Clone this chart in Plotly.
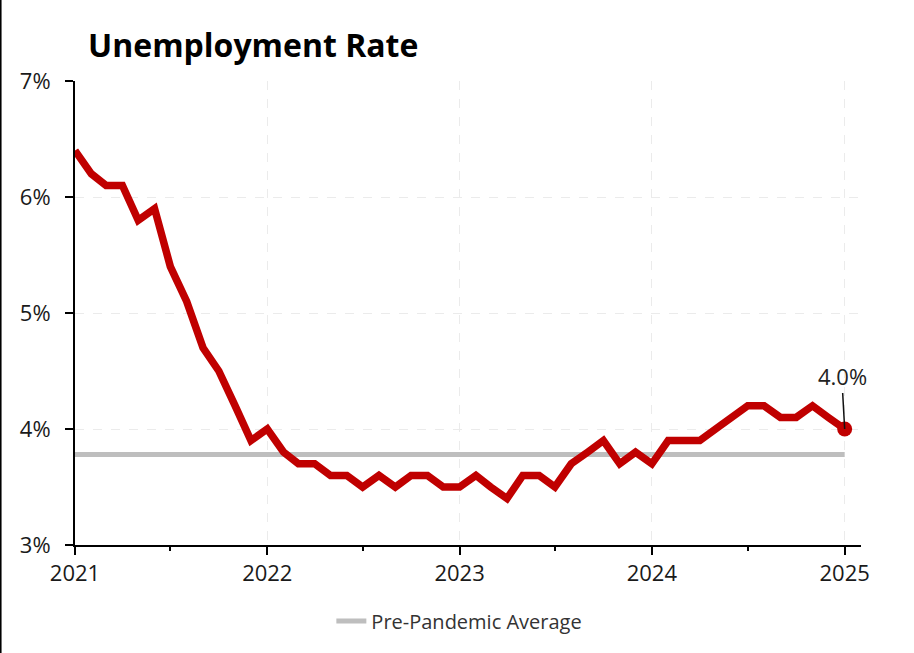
import plotly.graph_objects as go
import pandas as pd

months = pd.date_range("2021-01-01", "2025-01-01", freq="MS").strftime("%Y-%m-%d").tolist()
unemployment = [
    6.4, 6.2, 6.1, 6.1, 5.8, 5.9, 5.4, 5.1, 4.7, 4.5, 4.2, 3.9,
    4.0, 3.8, 3.7, 3.7, 3.6, 3.6, 3.5, 3.6, 3.5, 3.6, 3.6, 3.5,
    3.5, 3.6, 3.5, 3.4, 3.6, 3.6, 3.5, 3.7, 3.8, 3.9, 3.7, 3.8,
    3.7, 3.9, 3.9, 3.9, 4.0, 4.1, 4.2, 4.2, 4.1, 4.1, 4.2, 4.1,
    4.0,
]
pre_pandemic_avg = 3.78
year_ticks = ["2021-01-01", "2022-01-01", "2023-01-01", "2024-01-01", "2025-01-01"]
year_labels = ["2021", "2022", "2023", "2024", "2025"]
y_ticks = [3, 4, 5, 6, 7]
y_labels = ["3%", "4%", "5%", "6%", "7%"]

FONT = "Open Sans"
RED = "#C00000"
GRAY = "#BEBEBE"

fig = go.Figure()
fig.add_trace(go.Scatter(
    x=[months[0], months[-1]], y=[pre_pandemic_avg, pre_pandemic_avg],
    mode="lines", line=dict(color=GRAY, width=5),
    name="Pre-Pandemic Average", showlegend=True,
))
fig.add_trace(go.Scatter(
    x=months, y=unemployment, mode="lines",
    line=dict(color=RED, width=7.5), showlegend=False, name="Unemployment",
))
fig.add_trace(go.Scatter(
    x=[months[-1]], y=[unemployment[-1]], mode="markers",
    marker=dict(color=RED, size=15), showlegend=False, hoverinfo="skip",
))

fig.add_annotation(
    x=months[-1], y=unemployment[-1], xref="x", yref="y",
    text=f"{unemployment[-1]:.1f}%", showarrow=True, arrowhead=0,
    arrowwidth=1.5, arrowcolor="#111", ax=-2, ay=-36,
    font=dict(family=FONT, size=22, color="#222"), yanchor="bottom",
)

fig.add_shape(type="line", xref="paper", yref="paper",
              x0=-0.0947, x1=-0.0947, y0=-0.3, y1=1.2,
              line=dict(color="black", width=2))

fig.update_layout(
    width=914, height=653,
    margin=dict(l=75, r=53, t=81, b=108),
    paper_bgcolor="white", plot_bgcolor="white",
    title=dict(text="<b>Unemployment Rate</b>", x=88/914, xanchor="left",
               y=1-46/653, yanchor="middle",
               font=dict(family=FONT, size=32, color="black")),
    font=dict(family=FONT, color="#222"),
    legend=dict(orientation="h", x=0.489, xanchor="center", y=-0.164, yanchor="middle",
                font=dict(family=FONT, size=20, color="#333")),
    xaxis=dict(
        type="date", range=["2021-01-01", "2025-02-01"],
        tickvals=year_ticks, ticktext=year_labels,
        showline=True, linecolor="black", linewidth=2,
        ticks="outside", ticklen=8, tickwidth=2, tickcolor="black",
        showgrid=True, gridcolor="#EBEBEB", griddash="dash", gridwidth=1,
        tickfont=dict(family=FONT, size=22, color="#1a1a1a"),
        minor=dict(tickvals=["2021-07-01", "2022-07-01", "2023-07-01", "2024-07-01"],
                   ticks="outside", ticklen=4, tickwidth=2, tickcolor="black", showgrid=False),
        zeroline=False, fixedrange=True,
    ),
    yaxis=dict(
        range=[3, 7], tickvals=y_ticks, ticktext=y_labels,
        showline=True, linecolor="black", linewidth=2,
        ticks="outside", ticklen=8, tickwidth=2, tickcolor="black",
        showgrid=True, gridcolor="#EBEBEB", griddash="dash", gridwidth=1,
        tickfont=dict(family=FONT, size=22, color="#1a1a1a"),
        ticklabelstandoff=10,
        zeroline=False, fixedrange=True,
    ),
)

fig.write_html("out.html", config={"displayModeBar": False},
               post_script="document.body.style.margin='0';document.body.style.overflow='hidden';")
